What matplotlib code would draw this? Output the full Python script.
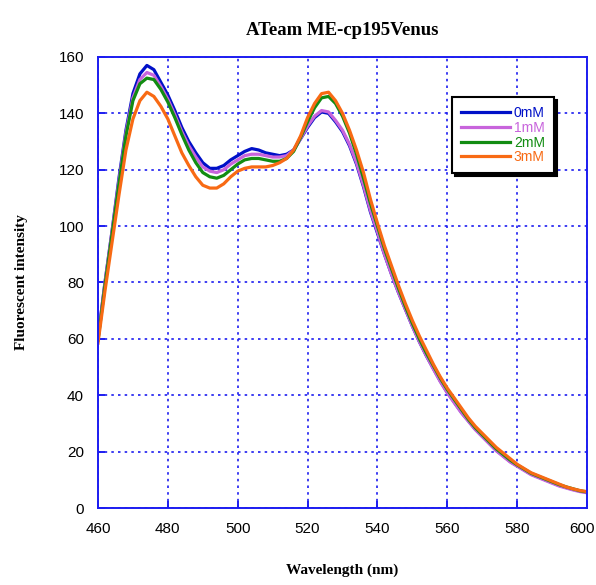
import numpy as np
import matplotlib
matplotlib.use("Agg")
from matplotlib import pyplot as plt
from matplotlib.transforms import ScaledTranslation

# Emission spectra of ATeam ME-cp195Venus, sampled every 2 nm
wavelength = list(range(460, 601, 2))

int_0mM = [60, 80, 98, 117, 134, 147, 154, 157, 155.5, 151,
           146.5, 141, 135, 130, 126, 122.5, 120.5, 120.5, 121.5, 123.5,
           125, 126.5, 127.5, 127, 126, 125.5, 125, 125.5, 127, 131,
           135, 138.5, 140.5, 140, 137, 133.5, 128.5, 122, 114, 105,
           97.5, 90, 83, 76.5, 70.5, 64.5, 59, 54, 49.5, 45,
           41, 37.5, 34, 31, 28, 25.5, 23, 20.5, 18.5, 16.5,
           15, 13.5, 12, 11, 10, 9, 8, 7.3, 6.6, 6, 5.6]

int_1mM = [60, 80, 98, 116, 133, 145.5, 152, 154.5, 153.5, 149.5,
           145, 139.5, 133.5, 128.5, 124.5, 121, 119.5, 119, 120, 122,
           123.5, 125, 125.5, 125.5, 125, 124.5, 124.5, 125, 127, 131,
           135.5, 139, 141, 140.5, 137.5, 134, 129, 122.5, 114.5, 105.5,
           98, 90, 83, 76.5, 70.5, 64.5, 59, 54, 49.3, 44.8,
           40.8, 37.3, 33.8, 30.8, 27.8, 25.3, 22.8, 20.3, 18.3, 16.3,
           14.8, 13.3, 11.8, 10.8, 9.8, 8.8, 7.8, 7.1, 6.4, 5.8, 5.4]

int_2mM = [59.5, 79, 97, 115, 132, 144.5, 150.5, 152.5, 152, 148.5,
           144, 138.5, 132.5, 127, 122.5, 119, 117.5, 117, 118, 120,
           122, 123.5, 124, 124, 123.5, 123, 123, 124, 126.5, 131.5,
           137, 142, 145.5, 146, 143.5, 139, 133, 125.5, 117, 108,
           100, 92, 85, 78, 71.5, 65.5, 60, 55, 50.5, 46,
           42, 38.5, 35, 31.5, 28.5, 26, 23.5, 21, 19, 17,
           15.3, 13.8, 12.3, 11.3, 10.3, 9.3, 8.3, 7.5, 6.8, 6.1, 5.7]

int_3mM = [58.5, 77, 94, 111, 127, 138, 144.5, 147.5, 146, 142.5,
           138, 132, 126, 121.5, 117.5, 114.5, 113.5, 113.5, 115, 117.5,
           119.5, 120.5, 121, 121, 121, 121.5, 122.5, 124, 127, 132,
           138.5, 143.5, 147, 147.5, 144.5, 140, 134, 127, 119, 109.5,
           101, 93, 86, 79, 72.5, 66.5, 61, 56, 51, 46.5,
           42.5, 39, 35.5, 32, 29, 26.5, 24, 21.5, 19.5, 17.5,
           15.5, 14, 12.5, 11.5, 10.5, 9.5, 8.5, 7.5, 6.8, 6.2, 5.8]

labels = ["0mM", "1mM", "2mM", "3mM"]
colores = ["#0010c8", "#c864dc", "#128c12", "#f86a14"]
series = [int_0mM, int_1mM, int_2mM, int_3mM]

tick_font = "Liberation Sans"
azul = "#1c1cf0"

fig = plt.figure(figsize=(5.96, 5.85), dpi=100)
ax = fig.add_axes([0.1644, 0.1316, 0.8206, 0.771])

for y, c, lab in zip(series, colores, labels):
    ax.plot(wavelength, y, color=c, lw=2.3, label=lab)

ax.set_xlim(460, 600)
ax.set_ylim(0, 160)
ax.set_xticks(np.arange(460, 601, 20))
ax.set_yticks(np.arange(0, 161, 20))
ax.grid(True, color=azul, linestyle=(0, (1.5, 2.5)), lw=1.2)

for s in ax.spines.values():
    s.set_color(azul)
    s.set_linewidth(1.4)
ax.tick_params(direction="in", length=5, width=1.4, color=azul, pad=10,
               labelsize=11)
for t in ax.get_xticklabels() + ax.get_yticklabels():
    t.set_family(tick_font)

# el ultimo rotulo (600) se corre un poco para que quepa en la figura
ultimo = ax.get_xticklabels()[-1]
ultimo.set_transform(ultimo.get_transform() +
                     ScaledTranslation(-4 / 72, 0, fig.dpi_scale_trans))

ax.set_title("ATeam ME-cp195Venus", family="Liberation Serif",
             fontweight="bold", fontsize=13.5, pad=16)
ax.set_xlabel("Wavelength (nm)", family="Liberation Serif",
              fontweight="bold", fontsize=11, labelpad=20)
ax.set_ylabel("Fluorescent intensity", family="Liberation Serif",
              fontweight="bold", fontsize=11, labelpad=22)

leg = ax.legend(loc="upper left", bbox_to_anchor=(0.724, 0.911),
                borderaxespad=0, fancybox=False, framealpha=1,
                edgecolor="black", labelcolor="linecolor",
                handlelength=3.5, handletextpad=0.3, labelspacing=0.05,
                borderpad=0.65,
                shadow={"color": "black", "alpha": 1},
                prop={"family": tick_font, "size": 10})
leg.get_frame().set_linewidth(1.5)

fig.savefig("out.png", dpi=100)
